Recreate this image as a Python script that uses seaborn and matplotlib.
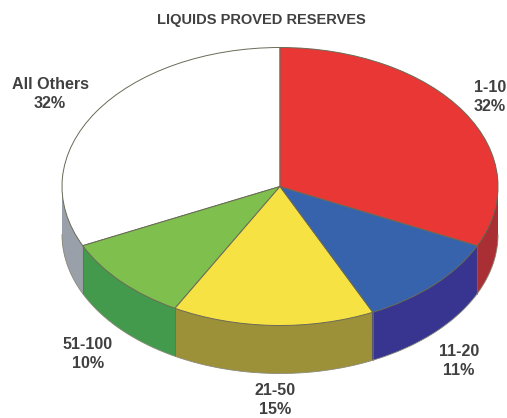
import numpy as np
import seaborn as sns
import matplotlib.pyplot as plt

# shares, going counter-clockwise from 12 o'clock
labels = ["All Others", "51-100", "21-50", "11-20", "1-10"]
shares = [32, 10, 15, 11, 32]
top_colors = ["#ffffff", "#7fbf4d", "#f7e244", "#3763ad", "#e93735"]
side_colors = ["#9aa0aa", "#439a4c", "#9c9039", "#37358f", "#a92f35"]

W, H = 507, 418
cx, cy = 280, 186.5   # centre of the top face, pixels
rx, ry = 218, 139
depth = 48 / ry       # rim height in pie units

sns.set_theme(style="white")
plt.rcParams["font.family"] = ["Liberation Sans", "DejaVu Sans"]

fig = plt.figure(figsize=(W / 100, H / 100), dpi=100)
bottom_px = H - (cy + ry + depth * ry)
ax = fig.add_axes([(cx - rx) / W, bottom_px / H, 2 * rx / W, (2 * ry + depth * ry) / H])

# rim: same pie repeated downwards, top face last
edge = "#6b6b58"
for off in np.linspace(depth, 0.004, 60):
    ax.pie(shares, colors=side_colors, startangle=90, center=(0, -off), radius=1,
           wedgeprops=dict(linewidth=0))
ax.pie(shares, colors=top_colors, startangle=90, radius=1,
       wedgeprops=dict(linewidth=0.7, edgecolor=edge))

# rim seams at slice borders on the front half
ang = np.deg2rad(90 + np.cumsum(shares) * 3.6)
for a in ang:
    if np.sin(a) < 0:
        ax.plot([np.cos(a)] * 2, [np.sin(a), np.sin(a) - depth], color=edge, lw=0.6)

# outline of the lower rim
t = np.linspace(np.pi, 2 * np.pi, 200)
ax.plot(np.cos(t), np.sin(t) - depth, color="#8a8a7a", lw=0.6)

ax.set_aspect("auto")
ax.set_xlim(-1, 1)
ax.set_ylim(-1 - depth, 1)
ax.axis("off")
for art in ax.get_children():
    art.set_clip_on(False)

txt = "#404040"
fs = 11.6


def label(x, y, s, size=fs):
    fig.text(x / W, 1 - y / H, s, ha="center", va="center", color=txt,
             fontsize=size, fontweight="bold", linespacing=1.35)


label(261, 20, "LIQUIDS PROVED RESERVES", size=10.5)
label(50, 94, "All Others\n32%")
label(490, 97, "1-10\n32%")
label(459, 361, "11-20\n11%")
label(275, 400, "21-50\n15%")
label(88, 354, "51-100\n10%")

fig.savefig("out.png", dpi=100)
